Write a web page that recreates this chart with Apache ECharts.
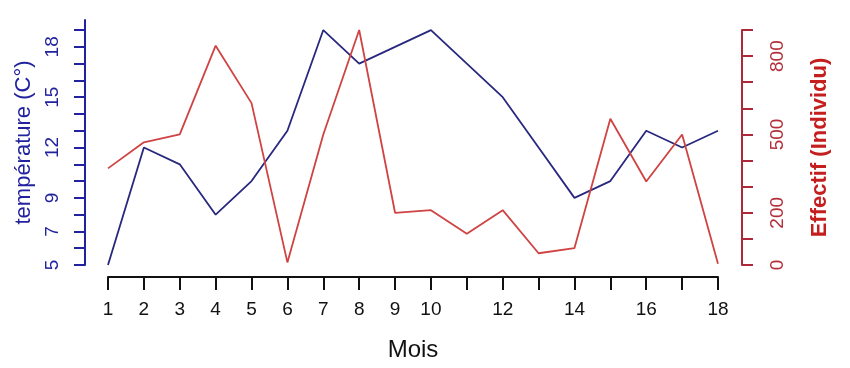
<!DOCTYPE html>
<html>
<head>
<meta charset="utf-8">
<script src="https://cdn.jsdelivr.net/npm/echarts@6/dist/echarts.min.js"></script>
<style>
  html, body { margin: 0; padding: 0; background: #ffffff; }
  #chart { width: 850px; height: 368px; }
</style>
</head>
<body>
<div id="chart"></div>
<script>
// ---- data ----
var months = [1, 2, 3, 4, 5, 6, 7, 8, 9, 10, 11, 12, 13, 14, 15, 16, 17, 18];
var temperature = [5, 12, 11, 8, 10, 13, 19, 17, 18, 19, 17, 15, 12, 9, 10, 13, 12, 13];
var effectif = [370, 470, 500, 840, 620, 10, 500, 900, 200, 210, 120, 210, 45, 65, 560, 320, 500, 5];
var xTickLabels = [1, 2, 3, 4, 5, 6, 7, 8, 9, 10, 12, 14, 16, 18];
var tempTicks = [5, 6, 7, 8, 9, 10, 11, 12, 13, 14, 15, 16, 17, 18, 19];
var tempTickLabels = [5, 7, 9, 12, 15, 18];
var effTicks = [0, 100, 200, 300, 400, 500, 600, 700, 800, 900];
var effTickLabels = [0, 200, 500, 800];

var FONT = 'Liberation Sans, Arial, sans-serif';
var BLUE = '#28287f';
var BLUE_AXIS = '#2222a0';
var RED = '#cf4343';
var RED_AXIS = '#ad2838';

var tempData = months.map(function (m, i) { return [m, temperature[i]]; });
var effData = months.map(function (m, i) { return [m, effectif[i]]; });

var chart = echarts.init(document.getElementById('chart'), null, { renderer: 'canvas' });
chart.setOption({
  animation: false,
  backgroundColor: '#ffffff',
  grid: [
    { left: 108, right: 132, top: 20, bottom: 103 },
    { left: 108, right: 132, top: 30, bottom: 103 }
  ],
  xAxis: [
    {
      gridIndex: 0, type: 'value', min: 1, max: 18, interval: 1,
      offset: 12,
      name: 'Mois', nameLocation: 'middle', nameGap: 61,
      nameTextStyle: { fontFamily: FONT, fontSize: 24, color: '#111' },
      axisLine: { show: true, lineStyle: { color: '#111', width: 2 } },
      axisTick: { show: true, length: 13, lineStyle: { color: '#111', width: 2 } },
      axisLabel: {
        fontFamily: FONT, fontSize: 19, color: '#111', margin: 23,
        formatter: function (v) { return xTickLabels.indexOf(v) >= 0 ? String(v) : ''; }
      },
      splitLine: { show: false }
    },
    {
      gridIndex: 1, type: 'value', min: 1, max: 18, show: false
    }
  ],
  yAxis: [
    {
      gridIndex: 0, type: 'value', min: 5, max: 19.6,
      position: 'left', offset: 23,
      name: 'température (C°)', nameLocation: 'middle', nameGap: 47,
      nameTextStyle: { fontFamily: FONT, fontSize: 22, color: BLUE_AXIS },
      axisLine: { show: true, lineStyle: { color: BLUE_AXIS, width: 2 } },
      axisTick: { show: true, length: 11, customValues: tempTicks, lineStyle: { color: BLUE_AXIS, width: 2 } },
      axisLabel: {
        rotate: 90, fontFamily: FONT, fontSize: 19, color: BLUE_AXIS, margin: 23,
        customValues: tempTickLabels
      },
      splitLine: { show: false }
    },
    {
      gridIndex: 1, type: 'value', min: 0, max: 900,
      position: 'right', offset: 24,
      name: 'Effectif (Individu)', nameLocation: 'middle', nameGap: 67,
      nameTextStyle: { fontFamily: FONT, fontSize: 22, fontWeight: 'bold', color: '#c41e1e' },
      axisLine: { show: true, lineStyle: { color: RED_AXIS, width: 2 } },
      axisTick: { show: true, length: 11, customValues: effTicks, lineStyle: { color: RED_AXIS, width: 2 } },
      axisLabel: {
        rotate: 90, fontFamily: FONT, fontSize: 19, color: '#b3303a', margin: 26,
        customValues: effTickLabels
      },
      splitLine: { show: false }
    }
  ],
  series: [
    {
      name: 'température', type: 'line', xAxisIndex: 0, yAxisIndex: 0,
      data: tempData, showSymbol: false, smooth: false,
      lineStyle: { color: BLUE, width: 1.8 }
    },
    {
      name: 'Effectif', type: 'line', xAxisIndex: 1, yAxisIndex: 1,
      data: effData, showSymbol: false, smooth: false,
      lineStyle: { color: RED, width: 1.8 }
    }
  ]
});
</script>
</body>
</html>
